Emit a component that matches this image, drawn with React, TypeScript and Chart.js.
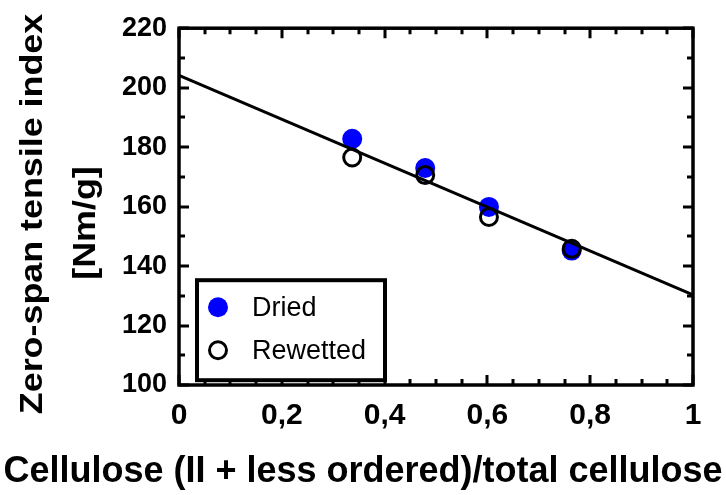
import React, { useEffect, useRef } from 'react';
import { Chart, registerables } from 'chart.js';

Chart.register(...registerables);

// ---- data ----
const driedX = [0.337, 0.479, 0.603, 0.764];
const driedY = [182.8, 173.0, 159.9, 145.2];
const rewettedX = [0.337, 0.479, 0.603, 0.764];
const rewettedY = [176.5, 170.6, 156.5, 145.8];
const fitX = [0, 1];
const fitY = [204.1, 130.3];

const xMin = 0;
const xMax = 1;
const xStep = 0.2;
const xMinorStep = 0.05;
const yMin = 100;
const yMax = 220;
const yStep = 20;
const yMinorStep = 10;

const legendLabels = ['Dried', 'Rewetted'];
const xTitle = 'Cellulose (II + less ordered)/total cellulose';
const yTitle = ['Zero-span tensile index', '[Nm/g]'];

const FONT = 'Arial, "Liberation Sans", Helvetica, sans-serif';
const BLUE = '#0000ff';

const fmtX = (v: number) => {
  const r = Math.round(v * 10) / 10;
  return String(r).replace('.', ',');
};

const framePlugin = {
  id: 'framePlugin',
  afterDraw(chart: any) {
    const { ctx, chartArea: ca } = chart;
    const xs = chart.scales.x;
    const ys = chart.scales.y;
    ctx.save();
    ctx.strokeStyle = '#000';
    ctx.lineCap = 'butt';

    // ticks (inward, all four sides)
    ctx.lineWidth = 3;
    const nx = Math.round((xMax - xMin) / xMinorStep);
    for (let i = 0; i <= nx; i++) {
      const v = xMin + i * xMinorStep;
      const px = Math.round(xs.getPixelForValue(v));
      const major = i % Math.round(xStep / xMinorStep) === 0;
      const len = major ? 10 : 6;
      ctx.beginPath();
      ctx.moveTo(px, ca.bottom);
      ctx.lineTo(px, ca.bottom - len);
      ctx.moveTo(px, ca.top);
      ctx.lineTo(px, ca.top + len);
      ctx.stroke();
    }
    const ny = Math.round((yMax - yMin) / yMinorStep);
    for (let i = 0; i <= ny; i++) {
      const v = yMin + i * yMinorStep;
      const py = Math.round(ys.getPixelForValue(v));
      const major = i % Math.round(yStep / yMinorStep) === 0;
      const len = major ? 10 : 6;
      ctx.beginPath();
      ctx.moveTo(ca.left, py);
      ctx.lineTo(ca.left + len, py);
      ctx.moveTo(ca.right, py);
      ctx.lineTo(ca.right - len, py);
      ctx.stroke();
    }

    // frame
    ctx.lineWidth = 3.5;
    ctx.strokeRect(ca.left, ca.top, ca.right - ca.left, ca.bottom - ca.top);

    // legend
    const lx = ca.left + 18;
    const ly = ca.top + 252;
    const lw = 188;
    const lh = 100;
    ctx.fillStyle = '#fff';
    ctx.fillRect(lx, ly, lw, lh);
    ctx.lineWidth = 4;
    ctx.strokeRect(lx, ly, lw, lh);

    const rows = [ly + 27, ly + 70];
    ctx.beginPath();
    ctx.fillStyle = BLUE;
    ctx.arc(lx + 21, rows[0], 10, 0, Math.PI * 2);
    ctx.fill();
    ctx.beginPath();
    ctx.lineWidth = 3;
    ctx.strokeStyle = '#000';
    ctx.arc(lx + 21, rows[1], 8.5, 0, Math.PI * 2);
    ctx.stroke();

    ctx.fillStyle = '#000';
    ctx.font = `27px ${FONT}`;
    ctx.textAlign = 'left';
    ctx.textBaseline = 'middle';
    ctx.fillText(legendLabels[0], lx + 55, rows[0] + 1);
    ctx.fillText(legendLabels[1], lx + 55, rows[1] + 1);

    // x title
    ctx.font = `bold 36px ${FONT}`;
    ctx.textAlign = 'center';
    ctx.textBaseline = 'alphabetic';
    ctx.fillText(xTitle, chart.width / 2, 482);

    // y title (two lines, rotated)
    ctx.font = `bold 32px ${FONT}`;
    const yCenters = [214, 223];
    const baseX = [42, 95];
    for (let i = 0; i < yTitle.length; i++) {
      ctx.save();
      ctx.translate(baseX[i], yCenters[i]);
      ctx.rotate(-Math.PI / 2);
      ctx.scale(1.12, 1);
      ctx.textAlign = 'center';
      ctx.textBaseline = 'alphabetic';
      ctx.fillText(yTitle[i], 0, 0);
      ctx.restore();
    }
    ctx.restore();
  },
};

export default function App() {
  const canvasRef = useRef<HTMLCanvasElement | null>(null);

  useEffect(() => {
    if (!canvasRef.current) return;
    const chart = new Chart(canvasRef.current, {
      type: 'scatter',
      data: {
        datasets: [
          {
            label: legendLabels[1],
            data: rewettedX.map((x, i) => ({ x, y: rewettedY[i] })),
            pointRadius: 8.5,
            pointBorderWidth: 3,
            pointBorderColor: '#000',
            pointBackgroundColor: 'rgba(0,0,0,0)',
            showLine: false,
            order: 0,
          },
          {
            label: 'fit',
            data: fitX.map((x, i) => ({ x, y: fitY[i] })),
            showLine: true,
            borderColor: '#000',
            borderWidth: 3,
            pointRadius: 0,
            fill: false,
            order: 1,
          },
          {
            label: legendLabels[0],
            data: driedX.map((x, i) => ({ x, y: driedY[i] })),
            pointRadius: 10,
            pointBorderWidth: 0,
            pointBackgroundColor: BLUE,
            pointBorderColor: BLUE,
            showLine: false,
            order: 2,
          },
        ],
      },
      options: {
        animation: false,
        responsive: false,
        devicePixelRatio: 1,
        layout: { padding: { top: 18, right: 33, left: 0, bottom: 0 } },
        plugins: {
          legend: { display: false },
          tooltip: { enabled: false },
          title: { display: false },
        },
        scales: {
          x: {
            type: 'linear',
            min: xMin,
            max: xMax,
            afterFit: (s: any) => {
              s.height = 110;
            },
            grid: { display: false, drawTicks: false },
            border: { display: false },
            ticks: {
              stepSize: xStep,
              maxRotation: 0,
              autoSkip: false,
              padding: 13,
              color: '#000',
              font: { size: 30, weight: 'bold', family: FONT },
              callback: (v: any) => fmtX(Number(v)),
            },
          },
          y: {
            type: 'linear',
            min: yMin,
            max: yMax,
            afterFit: (s: any) => {
              s.width = 179;
            },
            grid: { display: false, drawTicks: false },
            border: { display: false },
            ticks: {
              stepSize: yStep,
              padding: 12,
              color: '#000',
              font: { size: 27, weight: 'bold', family: FONT },
            },
          },
        },
      },
      plugins: [framePlugin],
    } as any);
    return () => chart.destroy();
  }, []);

  return (
    <div style={{ position: 'fixed', left: 0, top: 0, width: 726, height: 495, background: '#fff' }}>
      <canvas ref={canvasRef} width={726} height={495} style={{ width: 726, height: 495 }} />
    </div>
  );
}
